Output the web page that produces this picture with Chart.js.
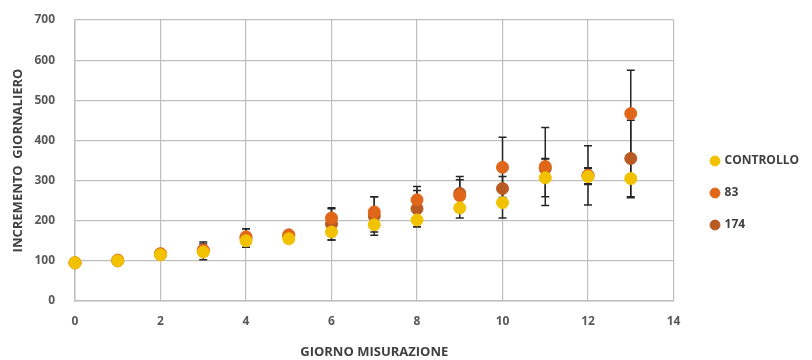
<!DOCTYPE html>
<html>
<head>
<meta charset="utf-8">
<script src="https://cdn.jsdelivr.net/npm/chart.js@4"></script>
<style>
  body { margin: 0; background: #fff; }
  #wrap { width: 812px; height: 360px; }
</style>
</head>
<body>
<div id="wrap"><canvas id="canvas"></canvas></div>
<script>
// giorni di misurazione
var giorni = [0, 1, 2, 3, 4, 5, 6, 7, 8, 9, 10, 11, 12, 13];

// medie per gruppo
var controllo = [95, 100, 115, 122, 150, 155, 172, 190, 202, 232, 245, 307, 310, 305];
var gruppo83  = [95, 102, 118, 127, 160, 165, 207, 222, 252, 262, 333, 335, 312, 467];
var gruppo174 = [95, 100, 116, 125, 157, 162, 192, 212, 230, 268, 280, 330, 313, 355];

// barre d'errore (+/-)
var errControllo = [3, 4, 5, 6, 8, 6, 20, 18, 17, 25, 38, 47, 20, 48];
var err83        = [4, 5, 8, 15, 20, 8, 23, 38, 33, 40, 75, 97, 20, 108];
var err174       = [4, 5, 8, 22, 23, 8, 40, 48, 45, 42, 30, 25, 74, 95];

var xTicks = [0, 2, 4, 6, 8, 10, 12, 14];
var yTicks = [0, 100, 200, 300, 400, 500, 600, 700];

function punti(valori, err) {
    return giorni.map(function (g, i) {
        return { x: g, y: valori[i], err: err[i] };
    });
}

// disegna le barre d'errore con le scale del grafico
var errorBars = {
    id: 'errorBars',
    beforeDatasetsDraw: function (chart) {
        var ctx = chart.ctx;
        var xs = chart.scales.x, ys = chart.scales.y;
        ctx.save();
        ctx.strokeStyle = '#262626';
        ctx.lineWidth = 1.5;
        chart.data.datasets.forEach(function (ds) {
            ds.data.forEach(function (p) {
                var px = xs.getPixelForValue(p.x);
                var top = ys.getPixelForValue(p.y + p.err);
                var bot = ys.getPixelForValue(p.y - p.err);
                ctx.beginPath();
                ctx.moveTo(px, top); ctx.lineTo(px, bot);
                ctx.moveTo(px - 4, top); ctx.lineTo(px + 4, top);
                ctx.moveTo(px - 4, bot); ctx.lineTo(px + 4, bot);
                ctx.stroke();
            });
        });
        ctx.restore();
    }
};

// sposta la legenda un po' più a destra e in basso rispetto al grafico
var legendOffset = {
    id: 'legendOffset',
    afterLayout: function (chart) {
        var lg = chart.legend;
        lg.left += 18; lg.right += 18;
        lg.top += 3; lg.bottom += 3;
    }
};

var tickFont = { family: 'Open Sans', size: 12, weight: 'bold' };
var titleFont = { family: 'Open Sans', size: 13, weight: 'bold' };

var config = {
    type: 'scatter',
    data: {
        datasets: [{
            label: 'CONTROLLO',
            data: punti(controllo, errControllo),
            backgroundColor: '#F2C200',
            borderColor: '#F2C200',
            pointRadius: 6,
            clip: false
        }, {
            label: '83',
            data: punti(gruppo83, err83),
            backgroundColor: '#E0661A',
            borderColor: '#E0661A',
            pointRadius: 6,
            clip: false
        }, {
            label: '174',
            data: punti(gruppo174, err174),
            backgroundColor: '#B85A22',
            borderColor: '#B85A22',
            pointRadius: 6,
            clip: false
        }]
    },
    options: {
        responsive: true,
        maintainAspectRatio: false,
        animation: false,
        layout: { padding: { top: 20, right: 21, left: 10, bottom: 0 } },
        plugins: {
            tooltip: { enabled: false },
            legend: {
                position: 'right',
                align: 'center',
                labels: {
                    usePointStyle: true,
                    pointStyle: 'circle',
                    boxWidth: 7,
                    boxHeight: 7,
                    padding: 20,
                    color: '#404040',
                    font: { family: 'Open Sans', size: 12, weight: 'bold' }
                }
            }
        },
        scales: {
            x: {
                type: 'linear',
                min: 0,
                max: 14,
                afterBuildTicks: function (axis) {
                    axis.ticks = xTicks.map(function (v) { return { value: v }; });
                },
                afterFit: function (axis) { axis.height = 59; },
                grid: { color: '#BFBFBF', lineWidth: 1.2, drawTicks: false },
                border: { color: '#BFBFBF', width: 1.5 },
                ticks: { color: '#595959', font: tickFont, padding: 13 },
                title: {
                    display: true,
                    text: 'GIORNO MISURAZIONE',
                    color: '#404040',
                    font: titleFont,
                    padding: { top: 5, bottom: 0 }
                }
            },
            y: {
                min: 0,
                max: 700,
                afterBuildTicks: function (axis) {
                    axis.ticks = yTicks.map(function (v) { return { value: v }; });
                },
                afterFit: function (axis) {
                    axis.width = 65;
                    axis.paddingTop = 0;
                    axis.paddingBottom = 0;
                },
                grid: { color: '#BFBFBF', lineWidth: 1.2, drawTicks: false },
                border: { color: '#BFBFBF', width: 1.5 },
                ticks: { color: '#595959', font: tickFont, padding: 20 },
                title: {
                    display: true,
                    text: 'INCREMENTO  GIORNALIERO',
                    color: '#404040',
                    font: titleFont,
                    padding: { top: 0, bottom: 6 }
                }
            }
        }
    },
    plugins: [errorBars, legendOffset]
};

window.onload = function () {
    window.myChart = new Chart(document.getElementById('canvas'), config);
};
</script>
</body>
</html>
